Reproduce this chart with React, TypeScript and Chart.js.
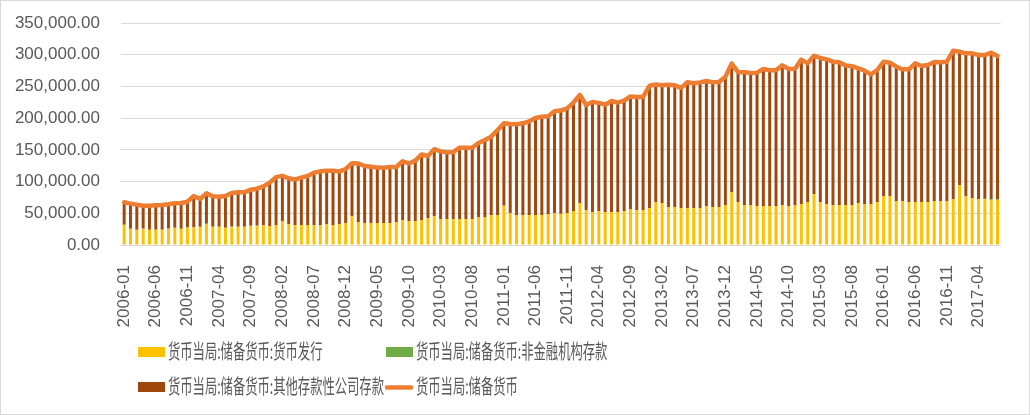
import React, { useEffect, useRef } from 'react';
import { Chart, registerables } from 'chart.js';

Chart.register(...registerables);

const months: string[] = [
  '2006-01','2006-02','2006-03','2006-04','2006-05','2006-06','2006-07','2006-08','2006-09','2006-10','2006-11','2006-12',
  '2007-01','2007-02','2007-03','2007-04','2007-05','2007-06','2007-07','2007-08','2007-09','2007-10','2007-11','2007-12',
  '2008-01','2008-02','2008-03','2008-04','2008-05','2008-06','2008-07','2008-08','2008-09','2008-10','2008-11','2008-12',
  '2009-01','2009-02','2009-03','2009-04','2009-05','2009-06','2009-07','2009-08','2009-09','2009-10','2009-11','2009-12',
  '2010-01','2010-02','2010-03','2010-04','2010-05','2010-06','2010-07','2010-08','2010-09','2010-10','2010-11','2010-12',
  '2011-01','2011-02','2011-03','2011-04','2011-05','2011-06','2011-07','2011-08','2011-09','2011-10','2011-11','2011-12',
  '2012-01','2012-02','2012-03','2012-04','2012-05','2012-06','2012-07','2012-08','2012-09','2012-10','2012-11','2012-12',
  '2013-01','2013-02','2013-03','2013-04','2013-05','2013-06','2013-07','2013-08','2013-09','2013-10','2013-11','2013-12',
  '2014-01','2014-02','2014-03','2014-04','2014-05','2014-06','2014-07','2014-08','2014-09','2014-10','2014-11','2014-12',
  '2015-01','2015-02','2015-03','2015-04','2015-05','2015-06','2015-07','2015-08','2015-09','2015-10','2015-11','2015-12',
  '2016-01','2016-02','2016-03','2016-04','2016-05','2016-06','2016-07','2016-08','2016-09','2016-10','2016-11','2016-12',
  '2017-01','2017-02','2017-03','2017-04','2017-05','2017-06','2017-07',
];

// 货币当局:储备货币:货币发行
const currencyIssue: number[] = [
  32000, 25800, 24200, 25200, 24200, 24200, 24200, 25200, 27300, 25800, 27300, 27900,
  28900, 33100, 28900, 28900, 27300, 27900, 28900, 28900, 30500, 29400, 31000, 30000,
  31500, 37800, 33100, 31500, 31500, 31500, 31500, 31500, 33100, 31500, 33100, 34700,
  45700, 36300, 34700, 34700, 34700, 34700, 34700, 36300, 39400, 37800, 37800, 39400,
  42600, 45700, 41000, 41000, 41000, 41000, 41000, 41000, 44100, 44100, 47300, 47300,
  62000, 50500, 47300, 47300, 47300, 47300, 47300, 48900, 50500, 49400, 50500, 53600,
  66200, 55200, 52000, 53600, 52000, 52000, 52000, 53600, 56800, 55200, 55200, 58300,
  67800, 66200, 59900, 59900, 58300, 58300, 58300, 58300, 61500, 59900, 59900, 63100,
  83600, 67800, 63100, 63100, 61500, 61500, 61500, 61500, 63100, 61500, 63100, 64600,
  67800, 80400, 67800, 64600, 63100, 63100, 63100, 63100, 66200, 64600, 64600, 67800,
  77300, 77300, 69400, 69400, 67800, 67800, 67800, 67800, 69400, 69400, 69400, 72500,
  94600, 77300, 74100, 72500, 72500, 70900, 70900,
];

// 货币当局:储备货币:非金融机构存款
const nonFinancialDeposits: number[] = [
  0, 0, 0, 1000, 0, 0, 0, 1000, 0, 0, 1000, 0,
  0, 1500, 0, 0, 0, 1500, 0, 0, 0, 1500, 0, 0,
  0, 0, 0, 0, 0, 0, 0, 0, 0, 0, 0, 0,
  0, 0, 0, 0, 0, 0, 0, 0, 0, 0, 0, 0,
  0, 0, 0, 0, 0, 0, 0, 0, 0, 0, 0, 0,
  0, 0, 0, 0, 0, 0, 0, 0, 0, 0, 0, 0,
  0, 0, 0, 0, 0, 0, 0, 0, 0, 0, 0, 0,
  0, 0, 0, 0, 0, 0, 0, 0, 0, 0, 0, 0,
  0, 0, 0, 0, 0, 0, 0, 0, 0, 0, 0, 0,
  0, 0, 0, 0, 0, 0, 0, 0, 0, 0, 0, 0,
  0, 0, 0, 0, 0, 0, 0, 0, 0, 0, 0, 0,
  0, 0, 0, 0, 500, 1000, 1000,
];

// 货币当局:储备货币:其他存款性公司存款
const otherDepositoryDeposits: number[] = [
  35300, 39400, 39400, 35800, 37800, 38300, 38900, 37900, 38400, 40400, 40000, 49400,
  43600, 46900, 47800, 47300, 50000, 52600, 54100, 54100, 56700, 57900, 61500, 68300,
  75500, 71200, 72000, 72000, 74700, 77300, 82500, 84600, 84100, 85700, 82900, 84800,
  83300, 92200, 89800, 88800, 87300, 87200, 88300, 86700, 92600, 90700, 95200, 103300,
  97700, 105300, 106600, 105100, 105300, 112400, 112400, 112400, 116700, 121400, 123500, 134000,
  129800, 140300, 143200, 144500, 147700, 152900, 155000, 154200, 160200, 162600, 165000, 171000,
  170300, 165500, 173400, 170500, 169200, 175000, 172400, 173900, 177500, 178300, 178300, 192700,
  185200, 185800, 192800, 191800, 189500, 198200, 196600, 198100, 197000, 196500, 197100, 202300,
  202400, 204900, 209100, 208100, 210200, 216000, 213900, 213900, 220100, 216000, 214900, 227600,
  218600, 218100, 227000, 228100, 225900, 224900, 220100, 218800, 212300, 210200, 204400, 208100,
  211700, 210100, 211700, 207500, 209100, 218600, 214400, 216000, 219100, 218600, 219600, 233900,
  210200, 224900, 228100, 227000, 226500, 231300, 226000,
];

// 货币当局:储备货币
const reserveMoney: number[] = [
  67300, 65200, 63600, 62000, 62000, 62500, 63100, 64100, 65700, 66200, 68300, 77300,
  72500, 81500, 76700, 76200, 77300, 82000, 83000, 83000, 87200, 88800, 92500, 98300,
  107000, 109000, 105100, 103500, 106200, 108800, 114000, 116100, 117200, 117200, 116000, 119500,
  129000, 128500, 124500, 123500, 122000, 121900, 123000, 123000, 132000, 128500, 133000, 142700,
  140300, 151000, 147600, 146100, 146300, 153400, 153400, 153400, 160800, 165500, 170800, 181300,
  191800, 190800, 190500, 191800, 195000, 200200, 202300, 203100, 210700, 212000, 215500, 224600,
  236500, 220700, 225400, 224100, 221200, 227000, 224400, 227500, 234300, 233500, 233500, 251000,
  253000, 252000, 252700, 251700, 247800, 256500, 254900, 256400, 258500, 256400, 257000, 265400,
  286000, 272700, 272200, 271200, 271700, 277500, 275400, 275400, 283200, 277500, 278000, 292200,
  286400, 298500, 294800, 292700, 289000, 288000, 283200, 281900, 278500, 274800, 269000, 275900,
  289000, 287400, 281100, 276900, 276900, 286400, 282200, 283800, 288500, 288000, 289000, 306400,
  304800, 302200, 302200, 299500, 299500, 303200, 297900,
];

const seriesNames: string[] = [
  '货币当局:储备货币:货币发行',
  '货币当局:储备货币:非金融机构存款',
  '货币当局:储备货币:其他存款性公司存款',
  '货币当局:储备货币',
];

const yMin = 0;
const yMax = 350000;
const yStep = 50000;
const xLabelEvery = 5;

const TEXT = '#595959';
const GRID = '#d9d9d9';
const COLORS = ['#FFC000', '#70AD47', '#9E480E', '#ED7D31'];

const framePlugin = {
  id: 'frame',
  beforeDraw(chart: any) {
    const { ctx, width, height } = chart;
    ctx.save();
    ctx.fillStyle = '#ffffff';
    ctx.fillRect(0, 0, width, height);
    ctx.strokeStyle = GRID;
    ctx.lineWidth = 1;
    ctx.strokeRect(0.5, 0.5, width - 1, height - 1);
    ctx.restore();
  },
};

const legendPlugin = {
  id: 'legendCondensed',
  afterDraw(chart: any) {
    const { ctx } = chart;
    const ds = chart.data.datasets;
    const byLabel = (name: string) => ds.find((d: any) => d.label === name);
    const items = [
      { name: seriesNames[0], kx: 138, ky: 347, tx: 168, ty: 351.5, line: false },
      { name: seriesNames[1], kx: 386, ky: 347, tx: 416, ty: 351.5, line: false },
      { name: seriesNames[2], kx: 138, ky: 382, tx: 168, ty: 386, line: false },
      { name: seriesNames[3], kx: 385, ky: 387.5, tx: 416, ty: 386, line: true },
    ];
    ctx.save();
    for (const it of items) {
      const d = byLabel(it.name);
      if (!d) continue;
      if (it.line) {
        ctx.strokeStyle = d.borderColor;
        ctx.lineWidth = 4.5;
        ctx.lineCap = 'round';
        ctx.beginPath();
        ctx.moveTo(it.kx + 2, it.ky);
        ctx.lineTo(it.kx + 26, it.ky);
        ctx.stroke();
      } else {
        ctx.fillStyle = d.backgroundColor;
        ctx.fillRect(it.kx, it.ky, 27, 10);
      }
      ctx.save();
      ctx.translate(it.tx, it.ty);
      ctx.scale(0.615, 1);
      ctx.font = '20px "Noto Sans CJK SC", sans-serif';
      ctx.fillStyle = TEXT;
      ctx.textBaseline = 'middle';
      ctx.textAlign = 'left';
      ctx.fillText(d.label, 0, 0);
      ctx.restore();
    }
    ctx.restore();
  },
};

export default function App() {
  const canvasRef = useRef<HTMLCanvasElement | null>(null);

  useEffect(() => {
    const canvas = canvasRef.current;
    if (!canvas) return;
    const tickFont = { family: '"Liberation Sans", Arial, sans-serif', size: 17 };
    const chart = new Chart(canvas, {
      type: 'bar',
      data: {
        labels: months,
        datasets: [
          {
            type: 'line',
            label: seriesNames[3],
            data: reserveMoney,
            borderColor: COLORS[3],
            backgroundColor: COLORS[3],
            borderWidth: 4.5,
            pointRadius: 0,
            tension: 0,
            borderJoinStyle: 'round',
            borderCapStyle: 'round',
            order: 0,
          } as any,
          {
            type: 'bar',
            label: seriesNames[0],
            data: currencyIssue,
            backgroundColor: COLORS[0],
            stack: 'rm',
            order: 1,
            barPercentage: 0.47,
            categoryPercentage: 1,
          },
          {
            type: 'bar',
            label: seriesNames[1],
            data: nonFinancialDeposits,
            backgroundColor: COLORS[1],
            stack: 'rm',
            order: 1,
            barPercentage: 0.47,
            categoryPercentage: 1,
          },
          {
            type: 'bar',
            label: seriesNames[2],
            data: otherDepositoryDeposits,
            backgroundColor: COLORS[2],
            stack: 'rm',
            order: 1,
            barPercentage: 0.47,
            categoryPercentage: 1,
          },
        ],
      },
      options: {
        animation: false,
        responsive: false,
        devicePixelRatio: 1,
        layout: { padding: { left: 0, right: 25, top: 23, bottom: 0 } },
        plugins: {
          legend: { display: false },
          tooltip: { enabled: false },
        },
        scales: {
          x: {
            stacked: true,
            grid: { display: false },
            border: { display: true, color: GRID, width: 1 },
            ticks: {
              autoSkip: false,
              minRotation: 90,
              maxRotation: 90,
              padding: 12,
              color: TEXT,
              font: tickFont,
              callback: function (this: any, value: any, index: number) {
                return index % xLabelEvery === 0 ? this.getLabelForValue(value) : '';
              },
            },
            afterFit(scale: any) {
              scale.height = 170;
            },
          },
          y: {
            stacked: true,
            min: yMin,
            max: yMax,
            grid: { color: GRID, lineWidth: 1, drawTicks: false },
            border: { display: false },
            ticks: {
              stepSize: yStep,
              padding: 21,
              color: TEXT,
              font: tickFont,
              callback: (v: any) =>
                Number(v).toLocaleString('en-US', { minimumFractionDigits: 2, maximumFractionDigits: 2 }),
            },
            afterFit(scale: any) {
              scale.width = 121;
              scale.paddingTop = 0;
              scale.paddingBottom = 0;
            },
          },
        },
      } as any,
      plugins: [framePlugin, legendPlugin],
    });
    return () => chart.destroy();
  }, []);

  return (
    <div style={{ position: 'fixed', left: 0, top: 0, width: 1030, height: 415, background: '#fff' }}>
      <canvas ref={canvasRef} width={1030} height={415} style={{ display: 'block', width: 1030, height: 415 }} />
    </div>
  );
}
